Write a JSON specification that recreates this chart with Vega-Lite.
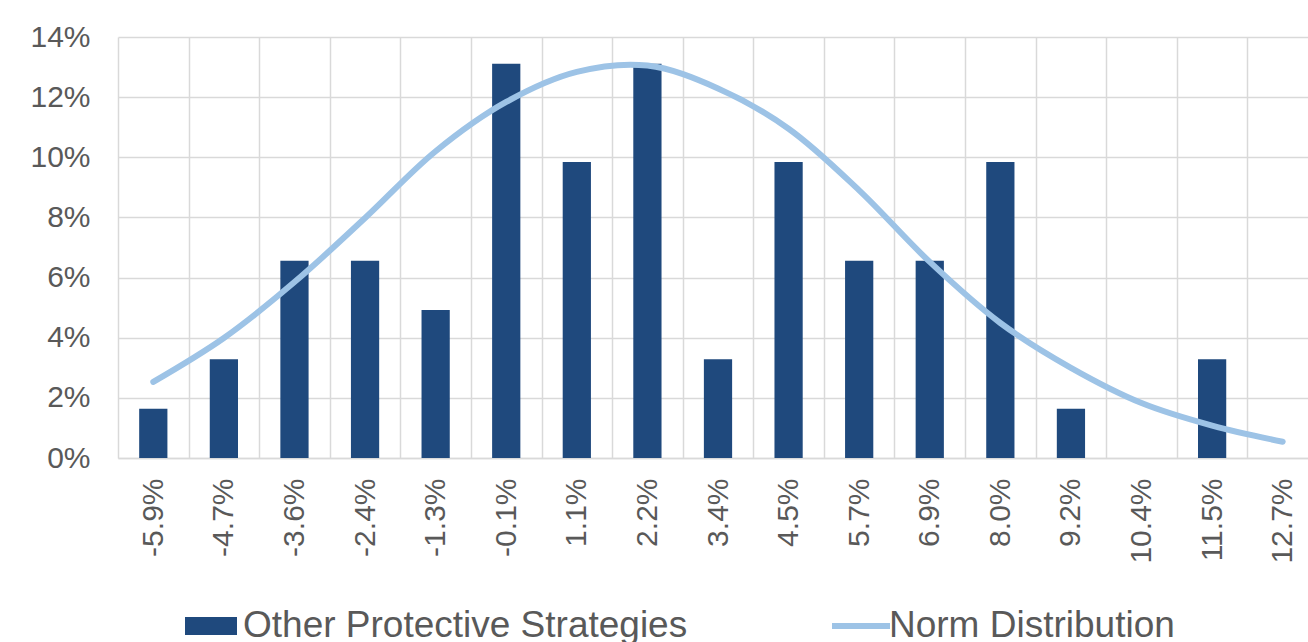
{
  "$schema": "https://vega.github.io/schema/vega-lite/v6.json",
  "autosize": "none",
  "width": 1190,
  "height": 421,
  "padding": {"left": 118, "top": 37, "right": 0, "bottom": 184},
  "background": "white",
  "config": {"view": {"stroke": null}, "font": "Liberation Sans"},
  "data": {
    "values": [
      {"bin": "-5.9%", "share": 0.0164, "norm": 0.0253},
      {"bin": "-4.7%", "share": 0.0328, "norm": 0.0399},
      {"bin": "-3.6%", "share": 0.0656, "norm": 0.0585},
      {"bin": "-2.4%", "share": 0.0656, "norm": 0.0798},
      {"bin": "-1.3%", "share": 0.0492, "norm": 0.1020},
      {"bin": "-0.1%", "share": 0.1311, "norm": 0.1184},
      {"bin": "1.1%", "share": 0.0984, "norm": 0.1284},
      {"bin": "2.2%", "share": 0.1311, "norm": 0.1305},
      {"bin": "3.4%", "share": 0.0328, "norm": 0.1229},
      {"bin": "4.5%", "share": 0.0984, "norm": 0.1095},
      {"bin": "5.7%", "share": 0.0656, "norm": 0.0890},
      {"bin": "6.9%", "share": 0.0656, "norm": 0.0652},
      {"bin": "8.0%", "share": 0.0984, "norm": 0.0449},
      {"bin": "9.2%", "share": 0.0164, "norm": 0.0300},
      {"bin": "10.4%", "share": 0.0, "norm": 0.0183},
      {"bin": "11.5%", "share": 0.0328, "norm": 0.0108},
      {"bin": "12.7%", "share": 0.0, "norm": 0.0054}
    ]
  },
  "encoding": {
    "x": {
      "field": "bin",
      "type": "nominal",
      "sort": null,
      "scale": {"range": [0, 1200], "paddingInner": 0, "paddingOuter": 0},
      "axis": {
        "title": null,
        "labelAngle": -90,
        "labelFontSize": 30,
        "labelColor": "#595959",
        "labelPadding": 20,
        "ticks": false,
        "domainColor": "#D9D9D9",
        "domainWidth": 1.5,
        "grid": true,
        "gridColor": "#D9D9D9",
        "gridWidth": 1.5,
        "tickBand": "extent"
      }
    }
  },
  "layer": [
    {
      "mark": {"type": "bar", "width": {"band": 0.4}},
      "encoding": {
        "y": {
          "field": "share",
          "type": "quantitative",
          "scale": {"domain": [0, 0.14], "nice": false, "zero": true},
          "axis": {
            "title": null,
            "format": ".0%",
            "values": [0, 0.02, 0.04, 0.06, 0.08, 0.1, 0.12, 0.14],
            "labelFontSize": 30,
            "labelColor": "#595959",
            "labelPadding": 28,
            "ticks": false,
            "domain": false,
            "gridColor": "#D9D9D9",
            "gridWidth": 1.5
          }
        },
        "fill": {
          "datum": "Other Protective Strategies",
          "scale": {"range": ["#1F497D"]},
          "legend": {
            "title": null,
            "orient": "none",
            "legendX": 67,
            "legendY": 563,
            "symbolType": "M-1,-0.346H1V0.346H-1Z",
            "symbolSize": 2704,
            "symbolStrokeWidth": 0,
            "labelFontSize": 37,
            "labelColor": "#595959",
            "labelOffset": 6,
            "labelLimit": 0
          }
        }
      }
    },
    {
      "mark": {"type": "line", "interpolate": "catmull-rom", "strokeWidth": 6, "strokeCap": "round"},
      "encoding": {
        "y": {"field": "norm", "type": "quantitative", "scale": {"domain": [0, 0.14], "nice": false}},
        "stroke": {
          "datum": "Norm Distribution",
          "scale": {"range": ["#9DC3E6"]},
          "legend": {
            "title": null,
            "orient": "none",
            "legendX": 711,
            "legendY": 557,
            "symbolType": "stroke",
            "symbolSize": 3364,
            "symbolStrokeWidth": 6,
            "labelFontSize": 37,
            "labelColor": "#595959",
            "labelOffset": -4,
            "labelLimit": 0
          }
        }
      }
    }
  ]
}
